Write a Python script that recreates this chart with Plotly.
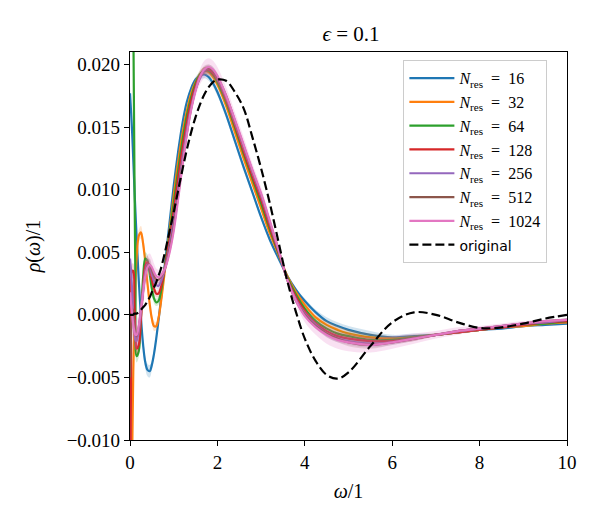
import plotly.graph_objects as go

# ---------------- data ----------------
OMEGA = [0, 0.025, 0.05, 0.075, 0.1, 0.125, 0.15, 0.2, 0.25, 0.3, 0.35, 0.4, 0.45, 0.5, 0.55,
         0.6, 0.65, 0.7, 0.8, 0.9, 1.0, 1.1, 1.2, 1.3, 1.4, 1.5, 1.6, 1.7, 1.8, 1.9, 2.0,
         2.2, 2.4, 2.6, 2.8, 3.0, 3.2, 3.4, 3.6, 3.8, 4.0, 4.25, 4.5, 4.75, 5.0,
         5.5, 6.0, 6.5, 7.0, 7.5, 8.0, 8.5, 9.0, 9.5, 10.0]

RHO_16 = [0.0177, 0.0162, 0.0145, 0.0124, 0.0102, 0.0082, 0.0063, 0.0028, -0.0002, -0.0024, -0.0038,
          -0.0044, -0.0045, -0.0040, -0.0031, -0.0019, -0.0005, 0.0010, 0.0041, 0.0072, 0.0103,
          0.0130, 0.0153, 0.0170, 0.0181, 0.0188, 0.0191, 0.0192, 0.0190, 0.0185, 0.0178,
          0.0160, 0.0139, 0.0118, 0.0098, 0.0078, 0.0060, 0.0045, 0.0031, 0.0020, 0.0011,
          0.0002, -0.0005, -0.0009, -0.0012, -0.0016, -0.0018, -0.0017, -0.0016, -0.0014,
          -0.0012, -0.0011, -0.0009, -0.0008, -0.0007]

RHO_32 = [-0.035, -0.022, -0.011, -0.0045, -0.0005, 0.0025, 0.0045, 0.0063, 0.0066, 0.0057, 0.0042,
          0.0025, 0.0009, -0.0003, -0.0009, -0.0009, -0.0003, 0.0008, 0.0036, 0.0066, 0.0095,
          0.0122, 0.0145, 0.0163, 0.0177, 0.0186, 0.0192, 0.0195, 0.0194, 0.0190, 0.0184,
          0.0167, 0.0146, 0.0125, 0.0105, 0.0085, 0.0065, 0.0048, 0.0031, 0.0018, 0.0008,
          -0.0002, -0.0008, -0.0012, -0.0015, -0.0018, -0.0019, -0.0018, -0.0016, -0.0014,
          -0.0012, -0.0010, -0.0009, -0.0007, -0.0006]

RHO_64 = [0.080, 0.060, 0.040, 0.024, 0.012, 0.0020, -0.0033, -0.0029, -0.0002, 0.0030, 0.0045,
          0.0043, 0.0033, 0.0021, 0.0013, 0.0010, 0.0011, 0.0017, 0.0039, 0.0063, 0.0089,
          0.0115, 0.0139, 0.0159, 0.0174, 0.0185, 0.0192, 0.0195, 0.0195, 0.0192, 0.0186,
          0.0170, 0.0150, 0.0129, 0.0109, 0.0089, 0.0068, 0.0049, 0.0030, 0.0016, 0.0005,
          -0.0005, -0.0011, -0.0015, -0.0017, -0.0020, -0.0020, -0.0018, -0.0016, -0.0014,
          -0.0012, -0.0010, -0.0008, -0.0007, -0.0005]

RHO_128 = [-0.020, -0.004, 0.0035, 0.0035, 0.0010, -0.0015, -0.0027, -0.0024, -0.0004, 0.0022, 0.0039,
           0.0042, 0.0037, 0.0028, 0.0021, 0.0017, 0.0017, 0.0021, 0.0038, 0.0059, 0.0083,
           0.0109, 0.0133, 0.0154, 0.0171, 0.0183, 0.0191, 0.0195, 0.0196, 0.0193, 0.0188,
           0.0172, 0.0152, 0.0131, 0.0111, 0.0092, 0.0070, 0.0050, 0.0029, 0.0014, 0.0003,
           -0.0007, -0.0013, -0.0017, -0.0019, -0.0021, -0.0021, -0.0019, -0.0016, -0.0014,
           -0.0012, -0.0010, -0.0008, -0.0006, -0.0005]

RHO_256 = [0.0045, 0.0035, 0.0018, -0.0002, -0.0014, -0.0020, -0.0021, -0.0013, 0.0003, 0.0020, 0.0034,
           0.0040, 0.0039, 0.0033, 0.0027, 0.0024, 0.0023, 0.0026, 0.0037, 0.0054, 0.0075,
           0.0100, 0.0125, 0.0148, 0.0166, 0.0180, 0.0189, 0.0195, 0.0197, 0.0195, 0.0189,
           0.0174, 0.0154, 0.0134, 0.0114, 0.0095, 0.0073, 0.0051, 0.0028, 0.0012, 0.0001,
           -0.0008, -0.0015, -0.0019, -0.0021, -0.0023, -0.0022, -0.0019, -0.0016, -0.0013,
           -0.0011, -0.0009, -0.0007, -0.0006, -0.0004]

RHO_512 = [-0.005, -0.0015, 0.0005, 0.0002, -0.0008, -0.0015, -0.0017, -0.0010, 0.0004, 0.0019, 0.0032,
           0.0039, 0.0040, 0.0036, 0.0031, 0.0028, 0.0028, 0.0030, 0.0037, 0.0051, 0.0070,
           0.0095, 0.0121, 0.0145, 0.0165, 0.0180, 0.0190, 0.0196, 0.0197, 0.0195, 0.0190,
           0.0175, 0.0155, 0.0135, 0.0115, 0.0096, 0.0074, 0.0052, 0.0028, 0.0011, 0.0000,
           -0.0009, -0.0015, -0.0019, -0.0022, -0.0024, -0.0022, -0.0019, -0.0016, -0.0013,
           -0.0011, -0.0009, -0.0007, -0.0005, -0.0004]

RHO_1024 = [0.0018, 0.0009, 0.0000, -0.0008, -0.0013, -0.0016, -0.0016, -0.0009, 0.0004, 0.0018, 0.0031,
            0.0038, 0.0040, 0.0038, 0.0034, 0.0031, 0.0030, 0.0031, 0.0037, 0.0049, 0.0067,
            0.0092, 0.0119, 0.0144, 0.0164, 0.0179, 0.0190, 0.0196, 0.0198, 0.0196, 0.0191,
            0.0175, 0.0156, 0.0136, 0.0116, 0.0097, 0.0075, 0.0052, 0.0028, 0.0011, -0.0001,
            -0.0010, -0.0016, -0.0020, -0.0022, -0.0024, -0.0022, -0.0019, -0.0016, -0.0013,
            -0.0011, -0.0009, -0.0007, -0.0005, -0.0004]

ORIGINAL = [0.0, 0.0, 0.0, 0.0, 0.0001, 0.0001, 0.0001, 0.0002, 0.0004, 0.0006, 0.0008,
            0.0011, 0.0014, 0.0018, 0.0022, 0.0026, 0.0031, 0.0036, 0.0050, 0.0066, 0.0082,
            0.0099, 0.0116, 0.0132, 0.0146, 0.0158, 0.0168, 0.0176, 0.0182, 0.0186, 0.0188,
            0.0187, 0.0178, 0.0165, 0.0142, 0.0117, 0.0089, 0.0058, 0.0027, 0.0002, -0.0019,
            -0.0037, -0.0048, -0.0051, -0.0046, -0.0025, -0.0006, 0.0002, 0.0000, -0.0006,
            -0.00105, -0.0010, -0.0007, -0.0003, 0.0]

# half-widths of the shaded uncertainty bands
ERR_WIDE = [0.0015, 0.0015, 0.0014, 0.0013, 0.0013, 0.0012, 0.0012, 0.0012, 0.0012, 0.0012, 0.0011,
            0.0010, 0.0009, 0.0008, 0.0007, 0.0006, 0.0006, 0.0005, 0.0004, 0.0004, 0.0004,
            0.0004, 0.0004, 0.0004, 0.0004, 0.0005, 0.0006, 0.0007, 0.0007, 0.0007, 0.0007,
            0.0007, 0.0006, 0.0006, 0.0005, 0.0005, 0.0004, 0.0003, 0.0002, 0.0003, 0.0005,
            0.0006, 0.0007, 0.0007, 0.0007, 0.0006, 0.0005, 0.0004, 0.0003, 0.0003,
            0.0002, 0.0002, 0.0002, 0.0001, 0.0001]

ERR_NARROW = [0.0006, 0.0006, 0.0006, 0.0006, 0.0006, 0.0005, 0.0005, 0.0005, 0.0005, 0.0005, 0.0005,
              0.0005, 0.0005, 0.0004, 0.0004, 0.0003, 0.0003, 0.0003, 0.0002, 0.0002, 0.0002,
              0.0002, 0.0002, 0.0002, 0.0002, 0.0002, 0.0003, 0.0003, 0.0003, 0.0003, 0.0003,
              0.0003, 0.0003, 0.0003, 0.0002, 0.0002, 0.0002, 0.0001, 0.0001, 0.0001, 0.0002,
              0.0002, 0.0003, 0.0003, 0.0003, 0.0003, 0.0002, 0.0002, 0.0001, 0.0001,
              0.0001, 0.0001, 0.0001, 0.0001, 0.0001]

N_RES = [16, 32, 64, 128, 256, 512, 1024]
SERIES = [RHO_16, RHO_32, RHO_64, RHO_128, RHO_256, RHO_512, RHO_1024]
ERRORS = [ERR_NARROW, ERR_NARROW, ERR_NARROW, ERR_NARROW, ERR_NARROW, ERR_NARROW, ERR_WIDE]
COLORS = ["#1f77b4", "#ff7f0e", "#2ca02c", "#d62728", "#9467bd", "#8c564b", "#e377c2"]
BAND_COLORS = ["rgba(31,119,180,0.2)", "rgba(255,127,14,0.2)", "rgba(44,160,44,0.2)",
               "rgba(214,39,40,0.2)", "rgba(148,103,189,0.2)", "rgba(140,86,75,0.2)",
               "rgba(227,119,194,0.22)"]

X_TICKS = [0, 2, 4, 6, 8, 10]
Y_TICKS = [-0.010, -0.005, 0.000, 0.005, 0.010, 0.015, 0.020]

SERIF = "Liberation Serif"
SANS = "DejaVu Sans"

fig = go.Figure()

for n, ys, errs, col, bcol in zip(N_RES, SERIES, ERRORS, COLORS, BAND_COLORS):
    grp = f"n{n}"
    lower = [y - e for y, e in zip(ys, errs)]
    upper = [y + e for y, e in zip(ys, errs)]
    fig.add_trace(go.Scatter(x=OMEGA, y=lower, mode="lines", line=dict(width=0, shape="spline"),
                             name=f"band low {n}", showlegend=False, legendgroup=grp,
                             hoverinfo="skip"))
    fig.add_trace(go.Scatter(x=OMEGA, y=upper, mode="lines", line=dict(width=0, shape="spline"),
                             fill="tonexty", fillcolor=bcol, name=f"band high {n}",
                             showlegend=False, legendgroup=grp, hoverinfo="skip"))
    fig.add_trace(go.Scatter(
        x=OMEGA, y=ys, mode="lines", legendgroup=grp,
        line=dict(color=col, width=2.2, shape="spline"),
        name=f"<i>N</i><sub>res</sub>  =  {n}"))

fig.add_trace(go.Scatter(
    x=OMEGA, y=ORIGINAL, mode="lines", legendgroup="orig",
    line=dict(color="black", width=2.2, dash="9px,4px", shape="spline"),
    name=f"<span style='font-family:{SANS}; font-size:14px'>original</span>"))

fig.update_layout(
    width=600, height=525,
    margin=dict(l=130, r=33, t=52, b=85),
    paper_bgcolor="white", plot_bgcolor="white",
    font=dict(family=SERIF, size=19, color="black"),
    title=dict(text="<i>ϵ</i> = 0.1", x=0.585, xanchor="center", y=0.935, yanchor="middle",
               font=dict(family=SERIF, size=21)),
    showlegend=True,
    legend=dict(x=0.6256, y=0.979, xanchor="left", yanchor="top",
                bgcolor="rgba(255,255,255,0.8)", bordercolor="#cccccc", borderwidth=1,
                font=dict(family=SERIF, size=16), tracegroupgap=0, itemwidth=45),
)

fig.update_xaxes(range=[0, 10], tickvals=X_TICKS, ticks="outside", ticklen=5, tickwidth=1,
                 tickcolor="black", showline=True, linecolor="black", linewidth=1.2, mirror=True,
                 showgrid=False, zeroline=False,
                 title=dict(text="<i>ω</i>/1", standoff=12, font=dict(family=SERIF, size=20)))
fig.update_yaxes(range=[-0.010, 0.021], tickvals=Y_TICKS, tickformat=".3f", ticks="outside",
                 ticklen=5, tickwidth=1, tickcolor="black", showline=True, linecolor="black",
                 linewidth=1.2, mirror=True, showgrid=False, zeroline=False,
                 title=dict(text="<i>ρ</i>(<i>ω</i>)/1", standoff=20, font=dict(family=SERIF, size=20)))

fig.write_html("out.html")
